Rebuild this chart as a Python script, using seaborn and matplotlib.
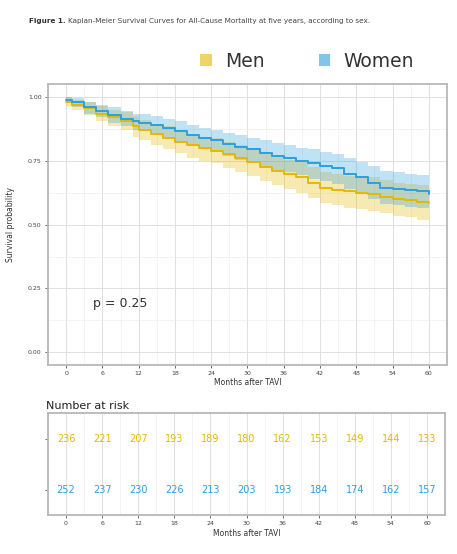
import numpy as np
import pandas as pd
import matplotlib
matplotlib.use("Agg")
import matplotlib.pyplot as plt
from matplotlib.patches import Patch
from matplotlib.ticker import MultipleLocator
import seaborn as sns

# ---------------- data ----------------
groups = ["Men", "Women"]
colors = {"Men": "#E7B800", "Women": "#2E9FDF"}

months = [0, 1, 3, 5, 7, 9, 11, 12, 14, 16, 18, 20, 22, 24, 26, 28, 30, 32, 34, 36,
          38, 40, 42, 44, 46, 48, 50, 52, 54, 56, 58, 60]

men_surv = [0.98, 0.97, 0.955, 0.935, 0.92, 0.905, 0.885, 0.87, 0.855, 0.84, 0.825, 0.81,
            0.80, 0.79, 0.775, 0.76, 0.745, 0.725, 0.71, 0.70, 0.685, 0.665, 0.645, 0.635,
            0.63, 0.625, 0.62, 0.61, 0.60, 0.595, 0.59, 0.585]
men_lo = [0.96, 0.95, 0.93, 0.905, 0.885, 0.87, 0.845, 0.83, 0.81, 0.795, 0.78, 0.76,
          0.75, 0.74, 0.72, 0.705, 0.69, 0.67, 0.655, 0.64, 0.625, 0.605, 0.585, 0.575,
          0.565, 0.56, 0.555, 0.545, 0.535, 0.53, 0.52, 0.515]
men_hi = [1.0, 0.99, 0.98, 0.965, 0.95, 0.94, 0.925, 0.91, 0.895, 0.885, 0.87, 0.855,
          0.845, 0.84, 0.825, 0.81, 0.80, 0.78, 0.765, 0.755, 0.745, 0.725, 0.705, 0.70,
          0.69, 0.69, 0.685, 0.675, 0.665, 0.66, 0.655, 0.65]

women_surv = [0.99, 0.98, 0.96, 0.945, 0.93, 0.915, 0.905, 0.90, 0.89, 0.88, 0.865, 0.85,
              0.84, 0.83, 0.815, 0.805, 0.795, 0.78, 0.77, 0.76, 0.75, 0.74, 0.73, 0.72,
              0.70, 0.685, 0.665, 0.645, 0.64, 0.635, 0.63, 0.62]
women_lo = [0.975, 0.96, 0.935, 0.92, 0.90, 0.885, 0.87, 0.865, 0.855, 0.84, 0.825, 0.81,
            0.795, 0.785, 0.77, 0.755, 0.745, 0.73, 0.715, 0.705, 0.695, 0.68, 0.67, 0.66,
            0.64, 0.62, 0.60, 0.58, 0.575, 0.57, 0.565, 0.555]
women_hi = [1.0, 0.995, 0.98, 0.97, 0.96, 0.945, 0.935, 0.935, 0.925, 0.915, 0.905, 0.89,
            0.88, 0.87, 0.86, 0.85, 0.84, 0.83, 0.82, 0.81, 0.80, 0.795, 0.785, 0.775,
            0.76, 0.745, 0.73, 0.71, 0.705, 0.70, 0.695, 0.685]

risk_months = [0, 6, 12, 18, 24, 30, 36, 42, 48, 54, 60]
men_risk = [236, 221, 207, 193, 189, 180, 162, 153, 149, 144, 133]
women_risk = [252, 237, 230, 226, 213, 203, 193, 184, 174, 162, 157]

y_ticks = [0.00, 0.25, 0.50, 0.75, 1.00]
y_tick_labels = ["0.00", "0.25", "0.50", "0.75", "1.00"]

caption_lead = "Figure 1."
title = "Kaplan-Meier Survival Curves for All-Cause Mortality at five years, according to sex."
p_text = "p = 0.25"

# ---------------- build frame ----------------
df = pd.concat([
    pd.DataFrame({"Months": months, "Survival": men_surv, "lo": men_lo, "hi": men_hi, "Sex": "Men"}),
    pd.DataFrame({"Months": months, "Survival": women_surv, "lo": women_lo, "hi": women_hi, "Sex": "Women"}),
])

sns.set_theme(style="white")
plt.rcParams["font.family"] = ["DejaVu Sans"]

fig = plt.figure(figsize=(4.57, 5.54), dpi=100)
ax = fig.add_axes([0.105, 0.341, 0.873, 0.507])
axr = fig.add_axes([0.105, 0.070, 0.869, 0.184])

grid_major = "#e0e0e0"
grid_minor = "#eeeeee"
border = "#b8b8b8"


def style_axes(a):
    for s in a.spines.values():
        s.set_edgecolor(border)
        s.set_linewidth(1.3)
    a.set_xlim(-3, 63)
    a.set_xticks(risk_months)
    a.xaxis.set_minor_locator(MultipleLocator(3))
    a.grid(which="major", axis="x", color=grid_major, linewidth=0.7)
    a.grid(which="minor", axis="x", color=grid_minor, linewidth=0.5)
    a.tick_params(axis="x", which="major", length=2.5, width=0.6, color="#555555",
                  labelsize=4.5, labelcolor="#444444", pad=2, bottom=True)
    a.tick_params(axis="y", which="major", length=2.5, width=0.6, color="#555555",
                  labelsize=4.5, labelcolor="#444444", pad=2, left=True)
    a.set_axisbelow(True)


style_axes(ax)
ax.set_ylim(-0.05, 1.05)
ax.set_yticks(y_ticks)
ax.set_yticklabels(y_tick_labels)
ax.yaxis.set_minor_locator(MultipleLocator(0.125))
ax.grid(which="major", axis="y", color=grid_major, linewidth=0.7)
ax.grid(which="minor", axis="y", color=grid_minor, linewidth=0.5)

for g in groups:
    sub = df[df["Sex"] == g]
    ax.fill_between(sub["Months"], sub["lo"], sub["hi"], step="post",
                    color=colors[g], alpha=0.3, linewidth=0)

sns.lineplot(data=df, x="Months", y="Survival", hue="Sex", palette=colors,
             drawstyle="steps-post", linewidth=1.4, legend=False, ax=ax, estimator=None)
ax.set_xlabel("Months after TAVI", fontsize=5.5, color="#333333", labelpad=1.5)
ax.set_ylabel("Survival probability", fontsize=5.5, color="#333333", labelpad=9)
ax.text(4.5, 0.19, p_text, fontsize=9, color="#333333", va="center", ha="left")

# risk table
style_axes(axr)
axr.set_ylim(0.5, 2.5)
axr.set_yticks([1, 2])
axr.set_yticklabels(["", ""])
for m, n in zip(risk_months, men_risk):
    axr.text(m, 2, str(n), color=colors["Men"], fontsize=7, ha="center", va="center")
for m, n in zip(risk_months, women_risk):
    axr.text(m, 1, str(n), color=colors["Women"], fontsize=7, ha="center", va="center")
axr.set_xlabel("Months after TAVI", fontsize=5.5, color="#333333", labelpad=1.5)
axr.set_ylabel("")
axr.set_title("Number at risk", loc="left", fontsize=8, color="#222222", pad=3, x=-0.005)

# legend
handles = [Patch(facecolor=colors[g], edgecolor="none", alpha=0.6) for g in groups]
fig.legend(handles, groups, loc="center", bbox_to_anchor=(0.672, 0.889), ncol=2,
           frameon=False, fontsize=13.5, handlelength=0.6, handleheight=0.6,
           columnspacing=2.9, handletextpad=0.7, labelcolor="#333333")

# caption
t1 = fig.text(0.063, 0.962, caption_lead, fontsize=5.2, fontweight="bold", color="#333333", va="center")
fig.canvas.draw()
bb = t1.get_window_extent(renderer=fig.canvas.get_renderer())
x_next = (bb.x1 + 3) / fig.bbox.width
fig.text(x_next, 0.962, title, fontsize=5.2, color="#444444", va="center")

fig.savefig("out.png", dpi=100, facecolor="white")
